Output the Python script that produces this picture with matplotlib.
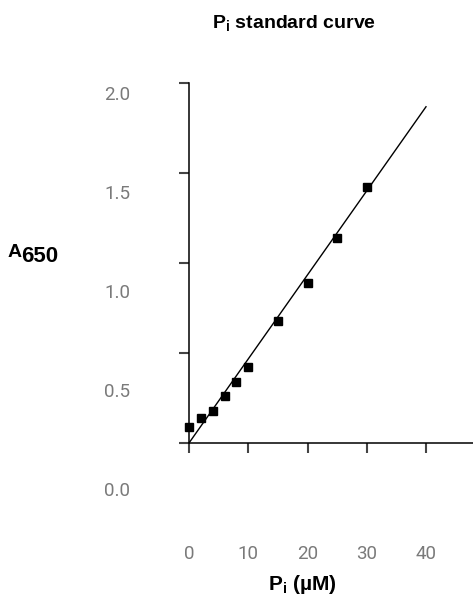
import matplotlib
matplotlib.use('Agg')
import matplotlib.pyplot as plt

# Pi standard curve data
conc = [0, 2, 4, 6, 8, 10, 15, 20, 25, 30]                              # Pi (uM)
a650 = [0.09, 0.14, 0.18, 0.26, 0.34, 0.42, 0.68, 0.89, 1.14, 1.42]    # A650
fit_x = [0, 40]
fit_slope = 0.0467
fit_intercept = 0.0

xticks = [0, 10, 20, 30, 40]
yticks = [0.0, 0.5, 1.0, 1.5, 2.0]
ytick_labels = ['0.0', '0.5', '1.0', '1.5', '2.0']

W, H = 473, 602
plt.rcParams['font.family'] = ['Roboto', 'DejaVu Sans']

fig = plt.figure(figsize=(W / 100, H / 100), dpi=100)

# main axes: x=0 at px 189, y=0 at px 443, y=2 at px 83
ax = fig.add_axes([189 / W, (H - 443) / H, (W - 189) / W, 360 / H])
ax.set_xlim(0, (W - 189) / 5.925)
ax.set_ylim(0, 2.0)

fit_y = [fit_slope * x + fit_intercept for x in fit_x]
ax.plot(fit_x, fit_y, color='black', lw=1.0, zorder=2)
ax.plot(conc, a650, 's', color='black', ms=6, zorder=3, clip_on=False)

for s in ['top', 'right']:
    ax.spines[s].set_visible(False)
for s in ['left', 'bottom']:
    ax.spines[s].set_linewidth(1.1)
    ax.spines[s].set_color('black')

ax.set_xticks(xticks)
ax.set_yticks(yticks)
ax.set_yticklabels([])
ax.tick_params(direction='out', length=7.2, width=1.5, color='#444444')
ax.tick_params(axis='x', pad=66, labelsize=13.5, labelcolor='#7a7a7a')

# y tick labels sit on their own scale in the reference (0.0 at px 489, 2.0 at px 93)
lab = fig.add_axes([133 / W, (H - 489) / H, 0.001, 396 / H])
lab.set_ylim(0, 2.0)
lab.set_yticks(yticks)
lab.set_yticklabels(ytick_labels)
lab.set_xticks([])
for s in lab.spines.values():
    s.set_visible(False)
lab.tick_params(axis='y', length=0, pad=2, labelsize=13.5, labelcolor='#7a7a7a')
lab.patch.set_visible(False)

# texts
fig.text(294 / W, 1 - 24 / H, 'P$_\\mathregular{i}$ standard curve',
         ha='center', va='center', fontsize=14, fontweight='bold',
         family=['Liberation Sans Narrow', 'Liberation Sans'])
fig.text(302 / W, 1 - 584 / H, 'P$_\\mathregular{i}$ (\u00b5M)',
         ha='center', va='center', fontsize=15, fontweight='bold',
         family=['Liberation Sans', 'DejaVu Sans'])
fig.text(8 / W, 1 - 253 / H, 'A', ha='left', va='center', fontsize=14,
         fontweight='bold', family=['Liberation Sans'])
fig.text(21 / W, 1 - 257 / H, '650', ha='left', va='center', fontsize=16,
         fontweight='bold', family=['Liberation Sans'])

fig.savefig('out.png', dpi=100)
